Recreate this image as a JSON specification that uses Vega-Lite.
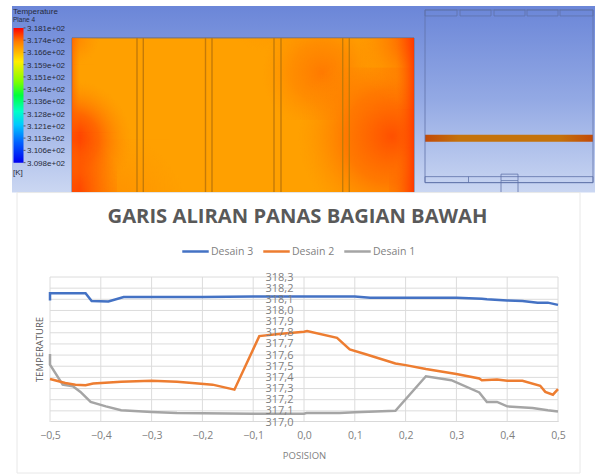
{
"$schema":"https://vega.github.io/schema/vega-lite/v6.json",
"autosize":{"type":"fit","contains":"padding"},
"width":595,"height":474,"padding":0,"background":"white",
"view":{"stroke":null},
"config":{"font":"Open Sans"},
"resolve":{"scale":{"x":"independent","y":"independent"}},
"layer":[
{
"encoding":{
"x":{"field":"x","type":"quantitative","axis":null,"scale":{"domain":[0,595],"nice":false,"zero":false}},
"y":{"field":"y","type":"quantitative","axis":null,"scale":{"domain":[0,474],"reverse":true,"nice":false,"zero":false}},
"x2":{"field":"x2"},"y2":{"field":"y2"}
},
"layer":[
{"data":{"values":[{"x":12,"x2":595,"y":6,"y2":193}]},"mark":{"type":"rect","fill":{"gradient":"linear","x1":0,"y1":0,"x2":0,"y2":1,"stops":[{"offset":0,"color":"#6b86d8"},{"offset":0.5,"color":"#93a9e4"},{"offset":1,"color":"#cbd7f2"}]}}},
{"data":{"values":[{"x":13.5,"x2":23.5,"y":28,"y2":163}]},"mark":{"type":"rect","fill":{"gradient":"linear","x1":0,"y1":0,"x2":0,"y2":1,"stops":[{"offset":0,"color":"#ff0000"},{"offset":0.1,"color":"#ff7a00"},{"offset":0.25,"color":"#ffee00"},{"offset":0.4,"color":"#7dff00"},{"offset":0.5,"color":"#00ff3c"},{"offset":0.62,"color":"#00ffc8"},{"offset":0.72,"color":"#00c8ff"},{"offset":0.85,"color":"#0060ff"},{"offset":1,"color":"#0000f0"}]}}},
{"data":{"values":[{"x":72,"x2":414,"y":38,"y2":193}]},"mark":{"type":"rect","fill":"#ffa000","stroke":"#6f6f7a","strokeWidth":1}},
{"data":{"values":[{"x":72,"x2":192,"y":140,"y2":193}]},"mark":{"type":"rect","fill":{"gradient":"radial","x1":0.15,"y1":1,"r1":0,"x2":0.15,"y2":1,"r2":0.85,"stops":[{"offset":0,"color":"rgba(255,125,0,0.8)"},{"offset":1,"color":"rgba(255,140,0,0)"}]}}},
{"data":{"values":[{"x":72,"x2":192,"y":80,"y2":200}]},"mark":{"type":"rect","fill":{"gradient":"radial","x1":0,"y1":0.5,"r1":0,"x2":0,"y2":0.5,"r2":0.5,"stops":[{"offset":0,"color":"rgba(255,50,0,1)"},{"offset":0.45,"color":"rgba(255,90,0,0.8)"},{"offset":1,"color":"rgba(255,140,0,0)"}]}}},
{"data":{"values":[{"x":72,"x2":117,"y":133,"y2":193}]},"mark":{"type":"rect","fill":{"gradient":"radial","x1":0,"y1":1,"r1":0,"x2":0,"y2":1,"r2":1,"stops":[{"offset":0,"color":"rgba(255,30,0,1)"},{"offset":0.4,"color":"rgba(255,70,0,0.7)"},{"offset":1,"color":"rgba(255,100,0,0)"}]}}},
{"data":{"values":[{"x":72,"x2":100,"y":38,"y2":65}]},"mark":{"type":"rect","fill":{"gradient":"radial","x1":0,"y1":0,"r1":0,"x2":0,"y2":0,"r2":1,"stops":[{"offset":0,"color":"rgba(255,120,0,0.8)"},{"offset":1,"color":"rgba(255,140,0,0)"}]}}},
{"data":{"values":[{"x":215,"x2":330,"y":38,"y2":68}]},"mark":{"type":"rect","fill":{"gradient":"radial","x1":0.5,"y1":0,"r1":0,"x2":0.5,"y2":0,"r2":0.5,"stops":[{"offset":0,"color":"rgba(255,130,0,0.55)"},{"offset":1,"color":"rgba(255,140,0,0)"}]}}},
{"data":{"values":[{"x":262,"x2":382,"y":38,"y2":120}]},"mark":{"type":"rect","fill":{"gradient":"radial","x1":0.5,"y1":0.45,"r1":0,"x2":0.5,"y2":0.45,"r2":0.5,"stops":[{"offset":0,"color":"rgba(255,115,0,0.85)"},{"offset":0.5,"color":"rgba(255,125,0,0.55)"},{"offset":1,"color":"rgba(255,140,0,0)"}]}}},
{"data":{"values":[{"x":214,"x2":414,"y":68,"y2":193}]},"mark":{"type":"rect","fill":{"gradient":"radial","x1":0.89,"y1":0.53,"r1":0,"x2":0.89,"y2":0.53,"r2":0.47,"stops":[{"offset":0,"color":"rgba(255,80,0,1)"},{"offset":0.5,"color":"rgba(255,105,0,0.7)"},{"offset":1,"color":"rgba(255,140,0,0)"}]}}},
{"data":{"values":[{"x":360,"x2":414,"y":38,"y2":110}]},"mark":{"type":"rect","fill":{"gradient":"radial","x1":1,"y1":0,"r1":0,"x2":1,"y2":0,"r2":1,"stops":[{"offset":0,"color":"rgba(255,50,0,0.95)"},{"offset":0.5,"color":"rgba(255,110,0,0.55)"},{"offset":1,"color":"rgba(255,140,0,0)"}]}}},
{"data":{"values":[{"x":389,"x2":414,"y":148,"y2":193}]},"mark":{"type":"rect","fill":{"gradient":"radial","x1":1,"y1":1,"r1":0,"x2":1,"y2":1,"r2":1,"stops":[{"offset":0,"color":"rgba(255,60,0,0.9)"},{"offset":1,"color":"rgba(255,110,0,0)"}]}}},
{"data":{"values":[{"x":396,"x2":414,"y":38,"y2":193}]},"mark":{"type":"rect","fill":{"gradient":"linear","x1":1,"y1":0,"x2":0,"y2":0,"stops":[{"offset":0,"color":"rgba(255,50,0,0.8)"},{"offset":1,"color":"rgba(255,100,0,0)"}]}}},
{"data":{"values":[{"x":72,"x2":80,"y":38,"y2":193}]},"mark":{"type":"rect","fill":{"gradient":"linear","x1":0,"y1":0,"x2":1,"y2":0,"stops":[{"offset":0,"color":"rgba(255,90,0,0.6)"},{"offset":1,"color":"rgba(255,120,0,0)"}]}}},
{"data":{"values":[{"x":137,"y":38,"y2":193},{"x":143.3,"y":38,"y2":193},{"x":205.5,"y":38,"y2":193},{"x":212,"y":38,"y2":193},{"x":274,"y":38,"y2":193},{"x":281,"y":38,"y2":193},{"x":342.7,"y":38,"y2":193},{"x":349.3,"y":38,"y2":193}]},"mark":{"type":"rule","stroke":"#c47a08","strokeWidth":1.4}},
{"data":{"values":[{"x":425,"x2":593,"y":135,"y2":142}]},"mark":{"type":"rect","fill":{"gradient":"linear","x1":0,"y1":0,"x2":1,"y2":0,"stops":[{"offset":0,"color":"#c24a08"},{"offset":0.2,"color":"#c4720a"},{"offset":0.8,"color":"#c4720a"},{"offset":1,"color":"#c24a08"}]}}},
{"data":{"values":[{"x":425,"x2":593,"y":10,"y2":183},{"x":425,"x2":457,"y":10,"y2":16},{"x":460,"x2":491,"y":10,"y2":16},{"x":494,"x2":525,"y":10,"y2":16},{"x":527,"x2":558,"y":10,"y2":16},{"x":560,"x2":593,"y":10,"y2":16},{"x":425,"x2":593,"y":177,"y2":183},{"x":501,"x2":518,"y":174.5,"y2":181}]},"mark":{"type":"rect","fill":null,"stroke":"#5f72a8","strokeWidth":0.8}},
{"data":{"values":[{"x":501,"y":181,"y2":193},{"x":518,"y":181,"y2":193},{"x":468.5,"y":177,"y2":183}]},"mark":{"type":"rule","stroke":"#5f72a8","strokeWidth":0.8}},
{"data":{"values":[{"x":23.5,"x2":25.5,"y":28},{"x":23.5,"x2":25.5,"y":40.3},{"x":23.5,"x2":25.5,"y":52.6},{"x":23.5,"x2":25.5,"y":64.8},{"x":23.5,"x2":25.5,"y":77.1},{"x":23.5,"x2":25.5,"y":89.4},{"x":23.5,"x2":25.5,"y":101.6},{"x":23.5,"x2":25.5,"y":113.9},{"x":23.5,"x2":25.5,"y":126.2},{"x":23.5,"x2":25.5,"y":138.4},{"x":23.5,"x2":25.5,"y":150.7},{"x":23.5,"x2":25.5,"y":163}]},"mark":{"type":"rule","stroke":"#333333","strokeWidth":0.7}},
{"data":{"values":[{"x":27,"y":29,"t":"3.181e+02"},{"x":27,"y":41.3,"t":"3.174e+02"},{"x":27,"y":53.6,"t":"3.166e+02"},{"x":27,"y":65.8,"t":"3.159e+02"},{"x":27,"y":78.1,"t":"3.151e+02"},{"x":27,"y":90.4,"t":"3.144e+02"},{"x":27,"y":102.6,"t":"3.136e+02"},{"x":27,"y":114.9,"t":"3.128e+02"},{"x":27,"y":127.2,"t":"3.121e+02"},{"x":27,"y":139.4,"t":"3.113e+02"},{"x":27,"y":151.7,"t":"3.106e+02"},{"x":27,"y":164,"t":"3.098e+02"},{"x":13,"y":173.5,"t":"[K]"}]},"mark":{"type":"text","align":"left","baseline":"middle","fontSize":8,"font":"Liberation Sans","color":"#262a3a"},"encoding":{"text":{"field":"t"},"x2":null,"y2":null}},
{"data":{"values":[{"x":13,"y":12.5,"t":"Temperature"}]},"mark":{"type":"text","align":"left","baseline":"middle","fontSize":8,"font":"Liberation Sans","color":"#262a3a"},"encoding":{"text":{"field":"t"},"x2":null,"y2":null}},
{"data":{"values":[{"x":13,"y":20.5,"t":"Plane 4"}]},"mark":{"type":"text","align":"left","baseline":"middle","fontSize":6.5,"font":"Liberation Sans","color":"#262a3a"},"encoding":{"text":{"field":"t"},"x2":null,"y2":null}},
{"data":{"values":[{"x":17,"x2":580,"y":193,"y2":474}]},"mark":{"type":"rect","fill":"white","stroke":"#e8e8e8","strokeWidth":1}},
{"data":{"values":[{"x":297.5,"y":217,"t":"GARIS  ALIRAN  PANAS  BAGIAN  BAWAH"}]},"mark":{"type":"text","align":"center","baseline":"middle","fontSize":20.2,"fontWeight":"bold","font":"Open Sans","color":"#595959"},"encoding":{"text":{"field":"t"},"x2":null,"y2":null}}
]
},
{
"encoding":{
"x":{"field":"x","type":"quantitative","scale":{"domain":[-0.5,0.5],"range":[50,558],"nice":false,"zero":false},
 "axis":{"orient":"bottom","offset":-52,"zindex":1,"values":[-0.5,-0.4,-0.3,-0.2,-0.1,0,0.1,0.2,0.3,0.4,0.5],"grid":false,"ticks":false,"domain":true,"domainColor":"#d9d9d9","labelColor":"#7f7f7f","labelFontSize":10.5,"labelPadding":9,"labelFlush":false,"labelExpr":"replace(format(datum.value,'.1f'),'.',',')","title":"POSISION","titleColor":"#7f7f7f","titleFontSize":9.5,"titleFontWeight":"normal","titleAnchor":"start","titleAlign":"center","titleX":304,"titleY":29}},
"y":{"field":"y","type":"quantitative","scale":{"domain":[317,318.3],"range":[422,277],"nice":false,"zero":false},
 "axis":{"orient":"left","offset":-305,"zindex":1,"values":[317,317.1,317.2,317.3,317.4,317.5,317.6,317.7,317.8,317.9,318,318.1,318.2,318.3],"grid":false,"ticks":false,"domain":false,"labelColor":"#7f7f7f","labelFontSize":11,"labelPadding":12,"labelExpr":"replace(format(datum.value,'.1f'),'.',',')","title":"TEMPERATURE","titleColor":"#595959","titleFontSize":9.5,"titleFontWeight":"normal","titleX":-261,"titleY":349,"titleAnchor":"start","titleAlign":"center"}}
},
"layer":[
{"data":{"values":[{"x":-0.5,"y":317,"y2":318.3},{"x":-0.4,"y":317,"y2":318.3},{"x":-0.3,"y":317,"y2":318.3},{"x":-0.2,"y":317,"y2":318.3},{"x":-0.1,"y":317,"y2":318.3},{"x":0,"y":317,"y2":318.3},{"x":0.1,"y":317,"y2":318.3},{"x":0.2,"y":317,"y2":318.3},{"x":0.3,"y":317,"y2":318.3},{"x":0.4,"y":317,"y2":318.3},{"x":0.5,"y":317,"y2":318.3}]},"mark":{"type":"rule","stroke":"#dcdcdc","strokeWidth":1},"encoding":{"y2":{"field":"y2"}}},
{"data":{"values":[{"x":-0.5,"x2":0.5,"y":317.1},{"x":-0.5,"x2":0.5,"y":317.2},{"x":-0.5,"x2":0.5,"y":317.3},{"x":-0.5,"x2":0.5,"y":317.4},{"x":-0.5,"x2":0.5,"y":317.5},{"x":-0.5,"x2":0.5,"y":317.6},{"x":-0.5,"x2":0.5,"y":317.7},{"x":-0.5,"x2":0.5,"y":317.8},{"x":-0.5,"x2":0.5,"y":317.9},{"x":-0.5,"x2":0.5,"y":318},{"x":-0.5,"x2":0.5,"y":318.1},{"x":-0.5,"x2":0.5,"y":318.2},{"x":-0.5,"x2":0.5,"y":318.3}]},"mark":{"type":"rule","stroke":"#dcdcdc","strokeWidth":1},"encoding":{"x2":{"field":"x2"}}},
{"data":{"values":[
{"s":"Desain 1","i":0,"x":-0.5,"y":317.61},{"s":"Desain 1","i":1,"x":-0.5,"y":317.515},{"s":"Desain 1","i":2,"x":-0.475,"y":317.335},{"s":"Desain 1","i":3,"x":-0.455,"y":317.32},{"s":"Desain 1","i":4,"x":-0.44,"y":317.27},{"s":"Desain 1","i":5,"x":-0.42,"y":317.18},{"s":"Desain 1","i":6,"x":-0.39,"y":317.14},{"s":"Desain 1","i":7,"x":-0.36,"y":317.105},{"s":"Desain 1","i":8,"x":-0.3,"y":317.09},{"s":"Desain 1","i":9,"x":-0.25,"y":317.08},{"s":"Desain 1","i":10,"x":-0.1,"y":317.075},{"s":"Desain 1","i":11,"x":0,"y":317.075},{"s":"Desain 1","i":12,"x":0.005,"y":317.08},{"s":"Desain 1","i":13,"x":0.07,"y":317.08},{"s":"Desain 1","i":14,"x":0.1,"y":317.088},{"s":"Desain 1","i":15,"x":0.18,"y":317.1},{"s":"Desain 1","i":16,"x":0.24,"y":317.41},{"s":"Desain 1","i":17,"x":0.29,"y":317.375},{"s":"Desain 1","i":18,"x":0.345,"y":317.265},{"s":"Desain 1","i":19,"x":0.36,"y":317.18},{"s":"Desain 1","i":20,"x":0.38,"y":317.18},{"s":"Desain 1","i":21,"x":0.4,"y":317.14},{"s":"Desain 1","i":22,"x":0.45,"y":317.125},{"s":"Desain 1","i":23,"x":0.48,"y":317.105},{"s":"Desain 1","i":24,"x":0.5,"y":317.095},
{"s":"Desain 2","i":0,"x":-0.5,"y":317.385},{"s":"Desain 2","i":1,"x":-0.47,"y":317.35},{"s":"Desain 2","i":2,"x":-0.45,"y":317.335},{"s":"Desain 2","i":3,"x":-0.43,"y":317.33},{"s":"Desain 2","i":4,"x":-0.415,"y":317.345},{"s":"Desain 2","i":5,"x":-0.36,"y":317.36},{"s":"Desain 2","i":6,"x":-0.3,"y":317.37},{"s":"Desain 2","i":7,"x":-0.25,"y":317.36},{"s":"Desain 2","i":8,"x":-0.22,"y":317.35},{"s":"Desain 2","i":9,"x":-0.18,"y":317.335},{"s":"Desain 2","i":10,"x":-0.137,"y":317.29},{"s":"Desain 2","i":11,"x":-0.088,"y":317.77},{"s":"Desain 2","i":12,"x":-0.05,"y":317.79},{"s":"Desain 2","i":13,"x":0,"y":317.81},{"s":"Desain 2","i":14,"x":0.006,"y":317.815},{"s":"Desain 2","i":15,"x":0.065,"y":317.755},{"s":"Desain 2","i":16,"x":0.09,"y":317.65},{"s":"Desain 2","i":17,"x":0.12,"y":317.61},{"s":"Desain 2","i":18,"x":0.18,"y":317.525},{"s":"Desain 2","i":19,"x":0.2,"y":317.51},{"s":"Desain 2","i":20,"x":0.24,"y":317.475},{"s":"Desain 2","i":21,"x":0.3,"y":317.43},{"s":"Desain 2","i":22,"x":0.345,"y":317.39},{"s":"Desain 2","i":23,"x":0.35,"y":317.375},{"s":"Desain 2","i":24,"x":0.38,"y":317.38},{"s":"Desain 2","i":25,"x":0.4,"y":317.37},{"s":"Desain 2","i":26,"x":0.43,"y":317.37},{"s":"Desain 2","i":27,"x":0.465,"y":317.325},{"s":"Desain 2","i":28,"x":0.475,"y":317.27},{"s":"Desain 2","i":29,"x":0.49,"y":317.245},{"s":"Desain 2","i":30,"x":0.5,"y":317.295},
{"s":"Desain 3","i":0,"x":-0.5,"y":318.09},{"s":"Desain 3","i":1,"x":-0.5,"y":318.155},{"s":"Desain 3","i":2,"x":-0.43,"y":318.155},{"s":"Desain 3","i":3,"x":-0.418,"y":318.085},{"s":"Desain 3","i":4,"x":-0.385,"y":318.08},{"s":"Desain 3","i":5,"x":-0.355,"y":318.12},{"s":"Desain 3","i":6,"x":-0.2,"y":318.12},{"s":"Desain 3","i":7,"x":-0.1,"y":318.125},{"s":"Desain 3","i":8,"x":0.1,"y":318.125},{"s":"Desain 3","i":9,"x":0.13,"y":318.115},{"s":"Desain 3","i":10,"x":0.3,"y":318.115},{"s":"Desain 3","i":11,"x":0.35,"y":318.105},{"s":"Desain 3","i":12,"x":0.36,"y":318.1},{"s":"Desain 3","i":13,"x":0.4,"y":318.09},{"s":"Desain 3","i":14,"x":0.43,"y":318.085},{"s":"Desain 3","i":15,"x":0.46,"y":318.07},{"s":"Desain 3","i":16,"x":0.48,"y":318.07},{"s":"Desain 3","i":17,"x":0.5,"y":318.05}
]},"mark":{"type":"line","strokeWidth":2.5,"interpolate":"linear"},
"encoding":{"order":{"field":"i","type":"quantitative"},
"color":{"field":"s","type":"nominal","scale":{"domain":["Desain 3","Desain 2","Desain 1"],"range":["#4472c4","#ed7d31","#a5a5a5"]},
"legend":{"orient":"none","legendX":181,"legendY":237,"direction":"horizontal","title":null,"symbolType":"stroke","symbolSize":700,"symbolStrokeWidth":2.5,"labelFontSize":10.5,"labelColor":"#7f7f7f","columns":3,"columnPadding":4,"labelOffset":1}}}}
]
}
]
}
